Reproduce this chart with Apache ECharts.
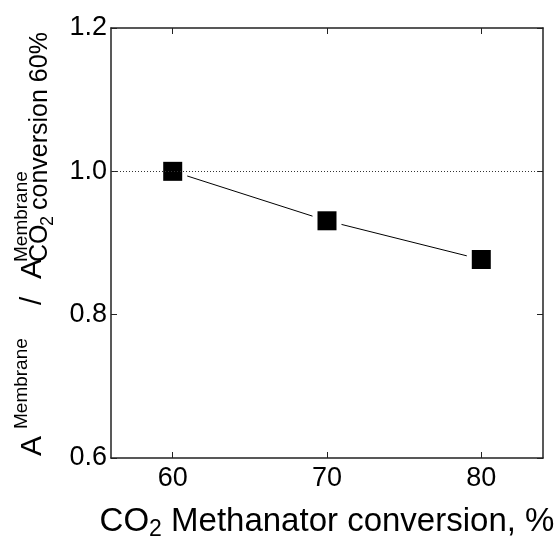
<!DOCTYPE html>
<html>
<head>
<meta charset="utf-8">
<script src="https://cdn.jsdelivr.net/npm/echarts@6/dist/echarts.min.js"></script>
<style>
  html, body { margin: 0; padding: 0; background: #fff; }
  #chart { width: 558px; height: 538px; }
</style>
</head>
<body>
<div id="chart"></div>
<script>
// CO2 methanator conversion (%) and normalised membrane area
const conversion = [60, 70, 80]
const areaRatio = [1.0, 0.931, 0.877]
const xTicks = [60, 70, 80]
const refLine = 1.0

const FONT = '"Liberation Sans", Arial, sans-serif'
const AXIS_COLOR = '#222'

const points = conversion.map((x, i) => [x, areaRatio[i]])

const chart = echarts.init(document.getElementById('chart'))

// y-axis title drawn as rotated text pieces (stacked super/subscript)
function vText(text, x, y, size) {
  return {
    type: 'text',
    x: x,
    y: y,
    rotation: Math.PI / 2,
    silent: true,
    style: {
      text: text,
      fill: '#000',
      font: size + 'px ' + FONT,
      align: 'left',
      verticalAlign: 'bottom'
    }
  }
}

chart.setOption({
  backgroundColor: '#fff',
  animation: false,
  grid: {
    left: 111,
    right: 15,
    top: 28,
    bottom: 80,
    outerBoundsMode: 'none'
  },
  xAxis: [{
    type: 'value',
    min: 56,
    max: 84,
    position: 'bottom',
    axisLine: { lineStyle: { color: AXIS_COLOR, width: 1.5 } },
    axisTick: { inside: true, length: 6, customValues: xTicks, lineStyle: { color: AXIS_COLOR } },
    axisLabel: { customValues: xTicks, color: '#000', fontSize: 27, fontFamily: FONT, margin: 7 },
    splitLine: { show: false },
    name: '{a|CO}{s|2}{a| Methanator conversion, %}',
    nameLocation: 'middle',
    nameGap: 45,
    nameTextStyle: {
      rich: {
        a: { fontSize: 33, fontFamily: FONT, color: '#000', lineHeight: 38 },
        s: { fontSize: 23, fontFamily: FONT, color: '#000', lineHeight: 20, verticalAlign: 'bottom' }
      }
    }
  }, {
    type: 'value',
    min: 56,
    max: 84,
    position: 'top',
    axisLine: { lineStyle: { color: AXIS_COLOR, width: 1.5 } },
    axisTick: { inside: true, length: 6, customValues: xTicks, lineStyle: { color: AXIS_COLOR } },
    axisLabel: { show: false },
    splitLine: { show: false }
  }],
  yAxis: [{
    type: 'value',
    min: 0.6,
    max: 1.2,
    interval: 0.2,
    position: 'left',
    axisLine: { lineStyle: { color: AXIS_COLOR, width: 1.5 } },
    axisTick: { inside: true, length: 6, lineStyle: { color: AXIS_COLOR } },
    axisLabel: {
      color: '#000',
      fontSize: 27,
      fontFamily: FONT,
      margin: 4,
      formatter: v => v.toFixed(1)
    },
    splitLine: { show: false }
  }, {
    type: 'value',
    min: 0.6,
    max: 1.2,
    interval: 0.2,
    position: 'right',
    axisLine: { lineStyle: { color: AXIS_COLOR, width: 1.5 } },
    axisTick: { inside: true, length: 6, lineStyle: { color: AXIS_COLOR } },
    axisLabel: { show: false },
    splitLine: { show: false }
  }],
  graphic: [
    vText('A', 48, 456, 30),
    vText('Membrane', 31, 429, 19),
    vText('/', 48, 305, 30),
    vText('A', 48, 279, 30),
    vText('Membrane', 31, 262, 19),
    vText('CO', 53, 262, 25),
    vText('2', 57, 226, 18),
    vText('conversion 60%', 53, 210, 25)
  ],
  series: [{
    type: 'line',
    data: points,
    symbol: 'none',
    silent: true,
    z: 1,
    lineStyle: { color: '#000', width: 1 }
  }, {
    // white halo so the connecting line stops short of the markers
    type: 'scatter',
    data: points,
    symbol: 'rect',
    symbolSize: 29,
    silent: true,
    z: 2,
    itemStyle: { color: '#fff', opacity: 1 }
  }, {
    type: 'scatter',
    data: points,
    symbol: 'rect',
    symbolSize: 19,
    silent: true,
    z: 3,
    itemStyle: { color: '#000', opacity: 1 },
    markLine: {
      silent: true,
      symbol: 'none',
      label: { show: false },
      lineStyle: { color: '#333', type: [1, 2], width: 1 },
      data: [{ yAxis: refLine }]
    }
  }]
})
</script>
</body>
</html>
